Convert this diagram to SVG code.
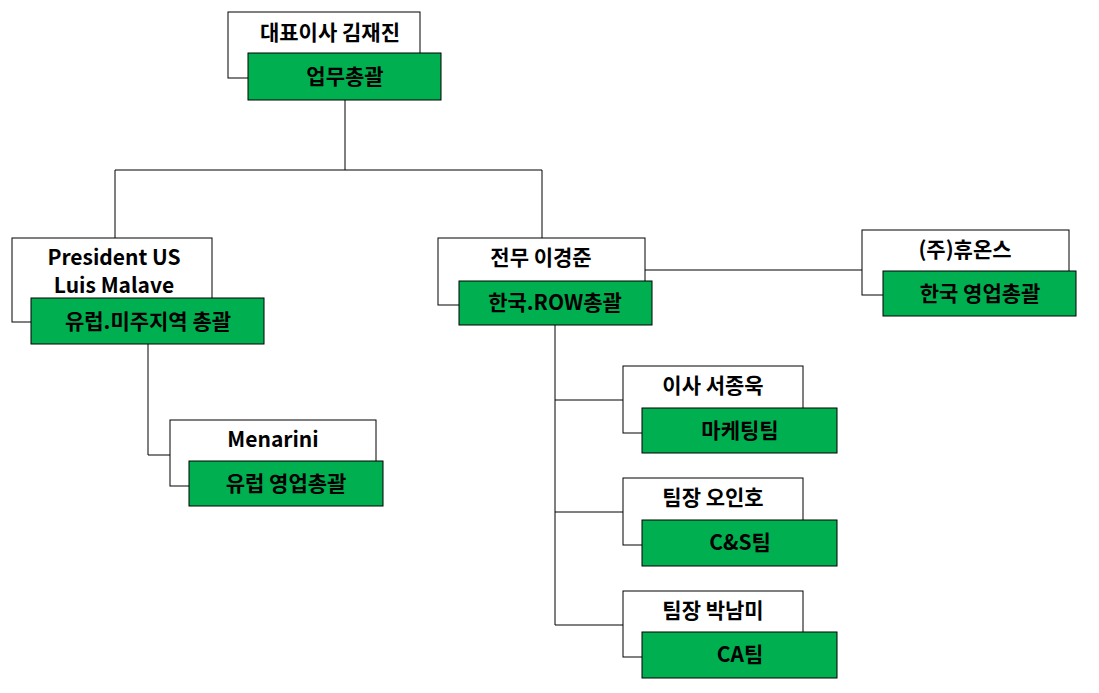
<svg xmlns="http://www.w3.org/2000/svg" width="1099" height="693" viewBox="0 0 1099 693">
<style>
.w{fill:#fff;stroke:#000;stroke-width:1}
.g{fill:#00B050;stroke:#000;stroke-width:1}
text{font-family:"Noto Sans CJK KR","Liberation Sans",sans-serif;font-weight:bold;font-size:21px;fill:#000;text-anchor:middle}
.c{fill:none;stroke:#000;stroke-width:1}
</style>
<rect width="1099" height="693" fill="#fff"/>
<g id="connectors">
<path class="c" d="M345,100V170M115,238V170H542V238"/>
<path class="c" d="M148,344V455H170"/>
<path class="c" d="M645,270H862"/>
<path class="c" d="M555,325V625H625M555,400H625M555,512H625"/>
</g>
<g id="n1"><rect class="w" x="228" y="12" width="192" height="66"/><rect class="g" x="248" y="53" width="193" height="47"/><text x="330" y="40">대표이사 김재진</text><text x="345" y="84">업무총괄</text></g>
<g id="n2"><rect class="w" x="12" y="238" width="200" height="84"/><rect class="g" x="31" y="298" width="233" height="46"/><text x="114" y="265">President US</text><text x="114" y="293">Luis Malave</text><text x="148" y="329">유럽.미주지역 총괄</text></g>
<g id="n3"><rect class="w" x="170" y="420" width="206" height="66"/><rect class="g" x="189" y="461" width="194" height="45"/><text x="273" y="447">Menarini</text><text x="286" y="491">유럽 영업총괄</text></g>
<g id="n4"><rect class="w" x="438" y="238" width="207" height="67"/><rect class="g" x="459" y="281" width="193" height="44"/><text x="541" y="265">전무 이경준</text><text x="555" y="310">한국.ROW총괄</text></g>
<g id="n5"><rect class="w" x="862" y="230" width="207" height="65"/><rect class="g" x="883" y="271" width="193" height="45"/><text x="965" y="257">(주)휴온스</text><text x="980" y="301">한국 영업총괄</text></g>
<g id="n6"><rect class="w" x="623" y="366" width="180" height="67"/><rect class="g" x="642" y="408" width="195" height="45"/><text x="713" y="393">이사 서종욱</text><text x="740" y="438">마케팅팀</text></g>
<g id="n7"><rect class="w" x="623" y="478" width="180" height="67"/><rect class="g" x="642" y="520" width="195" height="46"/><text x="713" y="505">팀장 오인호</text><text x="740" y="550">C&amp;S팀</text></g>
<g id="n8"><rect class="w" x="623" y="591" width="180" height="66"/><rect class="g" x="642" y="632" width="195" height="46"/><text x="713" y="618">팀장 박남미</text><text x="740" y="662">CA팀</text></g>
</svg>
